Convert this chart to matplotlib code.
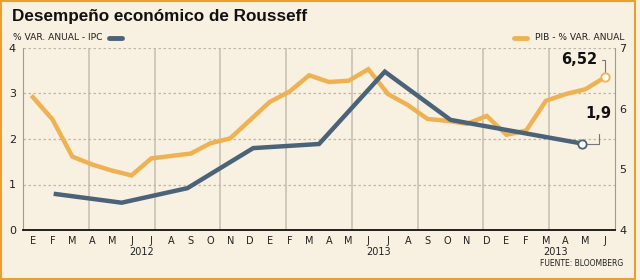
import matplotlib
matplotlib.use("Agg")
import matplotlib.pyplot as plt
import matplotlib.transforms as mtransforms
from matplotlib.patches import Rectangle

# datos
meses = ['E', 'F', 'M', 'A', 'M', 'J', 'J', 'A', 'S', 'O', 'N', 'D'] * 2 + ['E', 'F', 'M', 'A', 'M', 'J']
anios = ['2012', '2013', '2013']
anio_pos = [5.5, 17.5, 26.5]

# PIB - % var. anual (mensual, eje derecho)
pib = [6.19, 5.82, 5.21, 5.08, 4.98, 4.90, 5.18, 5.22, 5.26, 5.43, 5.51, 5.81,
       6.11, 6.28, 6.55, 6.44, 6.46, 6.65, 6.24, 6.06, 5.83, 5.80, 5.75, 5.88,
       5.57, 5.64, 6.13, 6.24, 6.32, 6.52]

# IPC - % var. anual (trimestral, eje izquierdo)
ipc = [0.79, 0.60, 0.92, 1.80, 1.89, 3.48, 2.42, 2.16, 1.9]

naranja = '#efb252'
azul = '#4a6379'
fondo = '#f8f0e0'

fig = plt.figure(figsize=(6.4, 2.8), dpi=100)
fig.patch.set_facecolor(fondo)
fig.patches.append(Rectangle((0.002, 0.005), 0.99, 0.99, transform=fig.transFigure,
                             fill=False, edgecolor='#e8a030', linewidth=1.5))

rect = [23 / 640, 1 - 230 / 280, (615 - 23) / 640, (230 - 48) / 280]
ax_m = fig.add_axes(rect)
ax_q = fig.add_axes(rect)
ax_m.set_facecolor(fondo)
ax_q.patch.set_visible(False)

# escalas
ax_m.set_xlim(-0.5, len(pib) - 0.5)
ax_m.set_ylim(4, 7)
ax_q.set_xlim(-0.5, len(ipc) - 0.5)
ax_q.set_ylim(0, 4)

# rejilla
vt = mtransforms.blended_transform_factory(ax_q.transData, ax_m.transAxes)
ax_m.vlines([q + 0.5 for q in range(len(ipc) - 1)], 0, 1, transform=vt,
            colors='#cdc5b6', linewidth=1.3, zorder=0)
ht = mtransforms.blended_transform_factory(ax_m.transAxes, ax_q.transData)
ax_m.hlines([1, 2, 3, 4], 0, 1, transform=ht, colors='#bdb8ae',
            linewidth=0.9, linestyles=(0, (2, 2)), zorder=0)

ax_m.plot(range(len(pib)), pib, color=naranja, linewidth=3.2, solid_joinstyle='miter', zorder=3)
ax_m.plot(len(pib) - 1, pib[-1], 'o', ms=6, mfc='white', mec=naranja, mew=1.3, zorder=4)

ax_q.plot(range(len(ipc)), ipc, color=azul, linewidth=3.2, solid_joinstyle='miter', zorder=3)
ax_q.plot(len(ipc) - 1, ipc[-1], 'o', ms=6, mfc='white', mec=azul, mew=1.3, zorder=4)

# ejes
for s in ['top', 'right', 'left', 'bottom']:
    ax_q.spines[s].set_visible(False)
ax_m.spines['top'].set_visible(False)
ax_m.spines['left'].set_color('#a09a90')
ax_m.spines['right'].set_color('#a09a90')
ax_m.spines['bottom'].set_color('#111111')
ax_m.spines['bottom'].set_linewidth(1.3)

ax_q.set_xticks([])
ax_q.set_yticks([0, 1, 2, 3, 4])
ax_q.tick_params(axis='y', length=0, pad=5, labelsize=8, labelcolor='#222222')

ax_m.set_xticks(range(len(pib)))
ax_m.set_xticklabels(meses)
ax_m.tick_params(axis='x', length=0, pad=4, labelsize=7, labelcolor='#222222')
ax_m.yaxis.tick_right()
ax_m.set_yticks([4, 5, 6, 7])
ax_m.tick_params(axis='y', length=0, pad=3, labelsize=8, labelcolor='#222222')

for txt, xp in zip(anios, anio_pos):
    ax_m.text(xp, -0.12, txt, transform=mtransforms.blended_transform_factory(ax_m.transData, ax_m.transAxes),
              ha='center', va='center', fontsize=7, color='#222222')

# etiquetas de valores
ax_m.annotate('6,52', xy=(len(pib) - 1, pib[-1]), xytext=(-5.5, 12.5), textcoords='offset points',
              ha='right', va='center', fontsize=10.5, fontweight='bold', color='#111111',
              arrowprops=dict(arrowstyle='-', color='#777777', lw=0.8,
                              connectionstyle='angle,angleA=0,angleB=90,rad=0', shrinkA=1, shrinkB=3))
ax_q.annotate('1,9', xy=(len(ipc) - 1, ipc[-1]), xytext=(12, 21.5), textcoords='offset points',
              ha='center', va='center', fontsize=10.5, fontweight='bold', color='#111111',
              arrowprops=dict(arrowstyle='-', color='#777777', lw=0.8,
                              connectionstyle='angle,angleA=90,angleB=0,rad=0', shrinkA=7, shrinkB=3))

# titulo y leyendas
fig.text(12 / 640, 1 - 17 / 280, 'Desempeño económico de Rousseff', ha='left', va='center',
         fontsize=12.3, fontweight='bold', color='#111111', family=['Liberation Sans', 'DejaVu Sans'])
fig.text(13 / 640, 1 - 38 / 280, '% VAR. ANUAL - IPC', ha='left', va='center', fontsize=6.6, color='#222222')
fig.lines.append(plt.Line2D([109 / 640, 122 / 640], [1 - 38 / 280] * 2, transform=fig.transFigure,
                            color=azul, linewidth=3.5, solid_capstyle='round'))
fig.lines.append(plt.Line2D([514 / 640, 527 / 640], [1 - 38 / 280] * 2, transform=fig.transFigure,
                            color=naranja, linewidth=3.5, solid_capstyle='round'))
fig.text(624 / 640, 1 - 38 / 280, 'PIB - % VAR. ANUAL', ha='right', va='center', fontsize=6.6, color='#222222')
fig.text(623 / 640, 1 - 263 / 280, 'FUENTE: BLOOMBERG', ha='right', va='center', fontsize=5.5, color='#222222')

fig.savefig('out.png', dpi=100, facecolor=fondo)
